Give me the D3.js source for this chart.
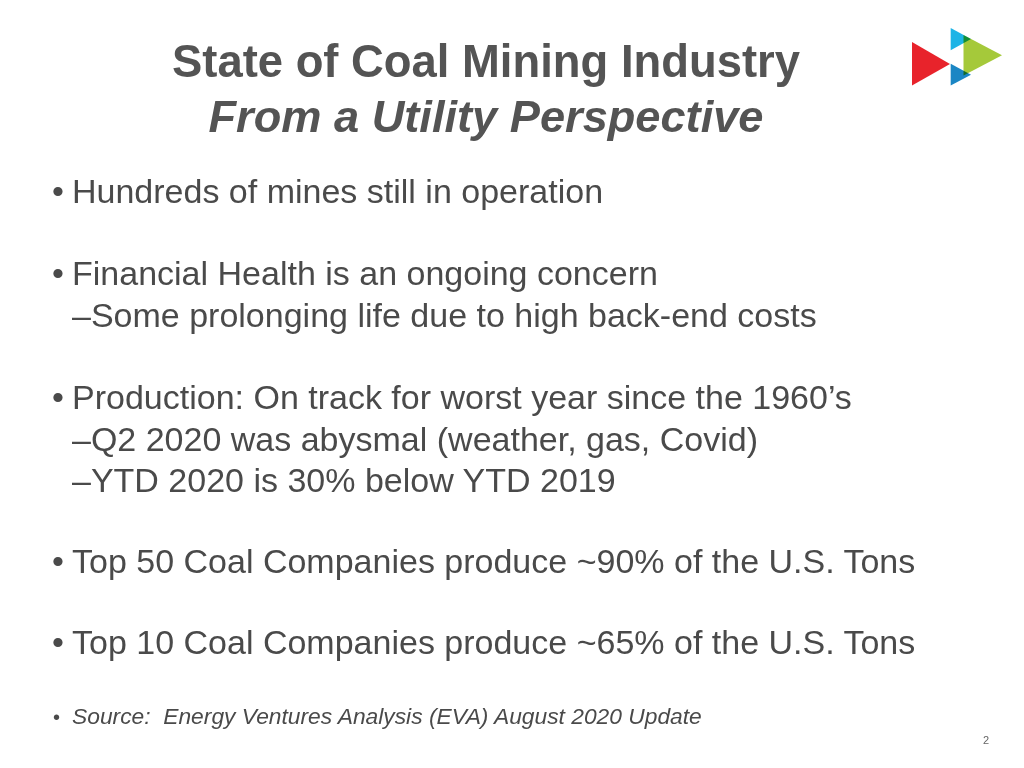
<!DOCTYPE html>
<html><head><meta charset="utf-8">
<script src="https://cdn.jsdelivr.net/npm/d3@7"></script>
<style>html,body{margin:0;padding:0;background:#fff;}svg{display:block;}text{white-space:pre;}</style>
</head><body>
<script>
const titleLines = ["State of Coal Mining Industry", "From a Utility Perspective"];
const bulletLines = [
  {text: "Hundreds of mines still in operation", level: 0},
  {text: "Financial Health is an ongoing concern", level: 0},
  {text: "–Some prolonging life due to high back-end costs", level: 1},
  {text: "Production: On track for worst year since the 1960’s", level: 0},
  {text: "–Q2 2020 was abysmal (weather, gas, Covid)", level: 1},
  {text: "–YTD 2020 is 30% below YTD 2019", level: 1},
  {text: "Top 50 Coal Companies produce ~90% of the U.S. Tons", level: 0},
  {text: "Top 10 Coal Companies produce ~65% of the U.S. Tons", level: 0}
];
const lineBaselines = [203, 285, 327, 409, 451, 492, 573, 654];
const sourceText = "Source:  Energy Ventures Analysis (EVA) August 2020 Update";
const pageNumber = "2";

const W = 1024, H = 768;
const svg = d3.select("body").append("svg").attr("width", W).attr("height", H);
svg.append("rect").attr("width", W).attr("height", H).attr("fill", "#fff");

const font = "'Liberation Sans', Arial, Helvetica, sans-serif";
const textColor = "#4a4a4a";

// Title
svg.selectAll("text.title").data(titleLines).enter().append("text")
  .attr("class", "title")
  .attr("x", 486)
  .attr("y", (d, i) => i === 0 ? 77 : 132)
  .attr("text-anchor", "middle")
  .attr("font-family", font)
  .attr("font-weight", "bold")
  .attr("font-style", (d, i) => i === 1 ? "italic" : "normal")
  .attr("font-size", (d, i) => i === 0 ? 45.4 : 45.2)
  .attr("fill", "#545454")
  .text(d => d);

// Bullets
const items = svg.append("g").selectAll("g.line").data(bulletLines).enter().append("g")
  .attr("transform", (d, i) => `translate(0,${lineBaselines[i]})`);
items.filter(d => d.level === 0).append("text")
  .attr("x", 52).attr("y", 0)
  .attr("font-family", font).attr("font-size", 34).attr("fill", textColor)
  .text("•");
items.append("text")
  .attr("x", 72)
  .attr("y", 0)
  .attr("font-family", font)
  .attr("font-size", 34)
  .attr("fill", textColor)
  .text(d => d.text);

// Source
svg.append("text").attr("x", 53).attr("y", 724)
  .attr("font-family", font).attr("font-size", 20).attr("fill", textColor).text("•");
svg.append("text").attr("x", 72).attr("y", 724)
  .attr("font-family", font).attr("font-size", 22.8).attr("font-style", "italic")
  .attr("fill", textColor).text(sourceText);

// Page number
svg.append("text").attr("x", 986).attr("y", 744).attr("text-anchor", "middle")
  .attr("font-family", font).attr("font-size", 11).attr("fill", "#666").text(pageNumber);

// Logo
const logo = svg.append("g");
const tri = [
  {pts: [[912,42],[912,85.5],[950,64]], fill: "#e8232b", blend: "normal"},
  {pts: [[963.5,35],[963.5,75.5],[1002,55.3]], fill: "#a5c93a", blend: "normal"},
  {pts: [[950.7,28],[950.7,50.3],[971,39]], fill: "#1cb4e6", blend: "multiply"},
  {pts: [[950.7,63.7],[950.7,85.5],[971,74.7]], fill: "#1a86c4", blend: "multiply"}
];
logo.selectAll("path").data(tri).enter().append("path")
  .attr("d", d => d3.line()(d.pts) + "Z")
  .attr("fill", d => d.fill)
  .style("mix-blend-mode", d => d.blend);
</script>
</body></html>
